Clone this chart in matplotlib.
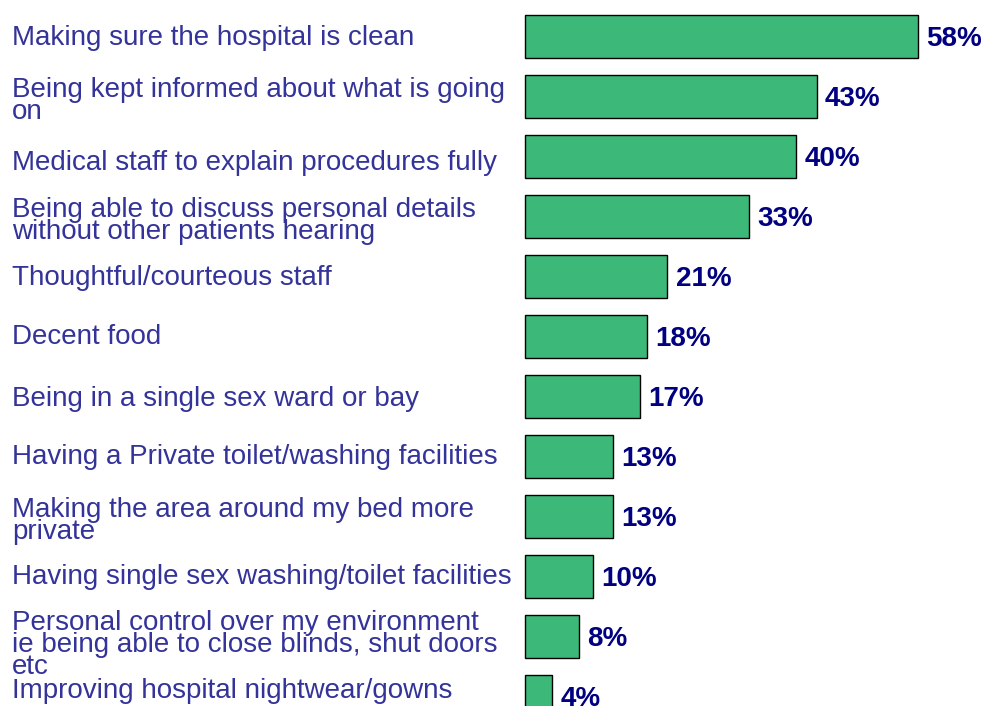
import matplotlib.pyplot as plt
import matplotlib.transforms as mtransforms

plt.rcParams['font.family'] = ['Liberation Sans', 'DejaVu Sans']

# data
labels = [
    "Making sure the hospital is clean",
    "Being kept informed about what is going\non",
    "Medical staff to explain procedures fully",
    "Being able to discuss personal details\nwithout other patients hearing",
    "Thoughtful/courteous staff",
    "Decent food",
    "Being in a single sex ward or bay",
    "Having a Private toilet/washing facilities",
    "Making the area around my bed more\nprivate",
    "Having single sex washing/toilet facilities",
    "Personal control over my environment\nie being able to close blinds, shut doors\netc",
    "Improving hospital nightwear/gowns",
]
values = [58, 43, 40, 33, 21, 18, 17, 13, 13, 10, 8, 4]

label_color = "#333399"
value_color = "#000080"
bar_color = "#3cb878"

# small vertical nudges of some labels, as in the original
nudge = {0: 0.03, 2: 0.11, 4: 0.03, 6: 0.04, 11: -0.1}

fig = plt.figure(figsize=(9.83, 7.06), dpi=100)
ax = fig.add_axes([0, 0, 1, 1])

pos = list(range(len(values)))
ax.barh(pos, values, height=0.72, color=bar_color, edgecolor="black", linewidth=1)

# x: 0% at pixel 525, 6.78 px per percent
ax.set_xlim(-525 / 6.78, (983 - 525) / 6.78)
ax.set_ylim((706 - 36.5) / 60, -36.5 / 60)
ax.axis("off")

trans = mtransforms.blended_transform_factory(fig.transFigure, ax.transData)
for i, (lab, v) in enumerate(zip(labels, values)):
    n = lab.count("\n")
    ax.text(12 / 983, i + 0.07 * n + nudge.get(i, 0), lab, transform=trans,
            ha="left", va="center", fontsize=20, color=label_color, linespacing=0.8)
    ax.text(v + 1.2, i + 0.04, f"{v}%", ha="left", va="center", fontsize=20,
            fontweight="bold", color=value_color)

fig.savefig("out.png", dpi=100)
